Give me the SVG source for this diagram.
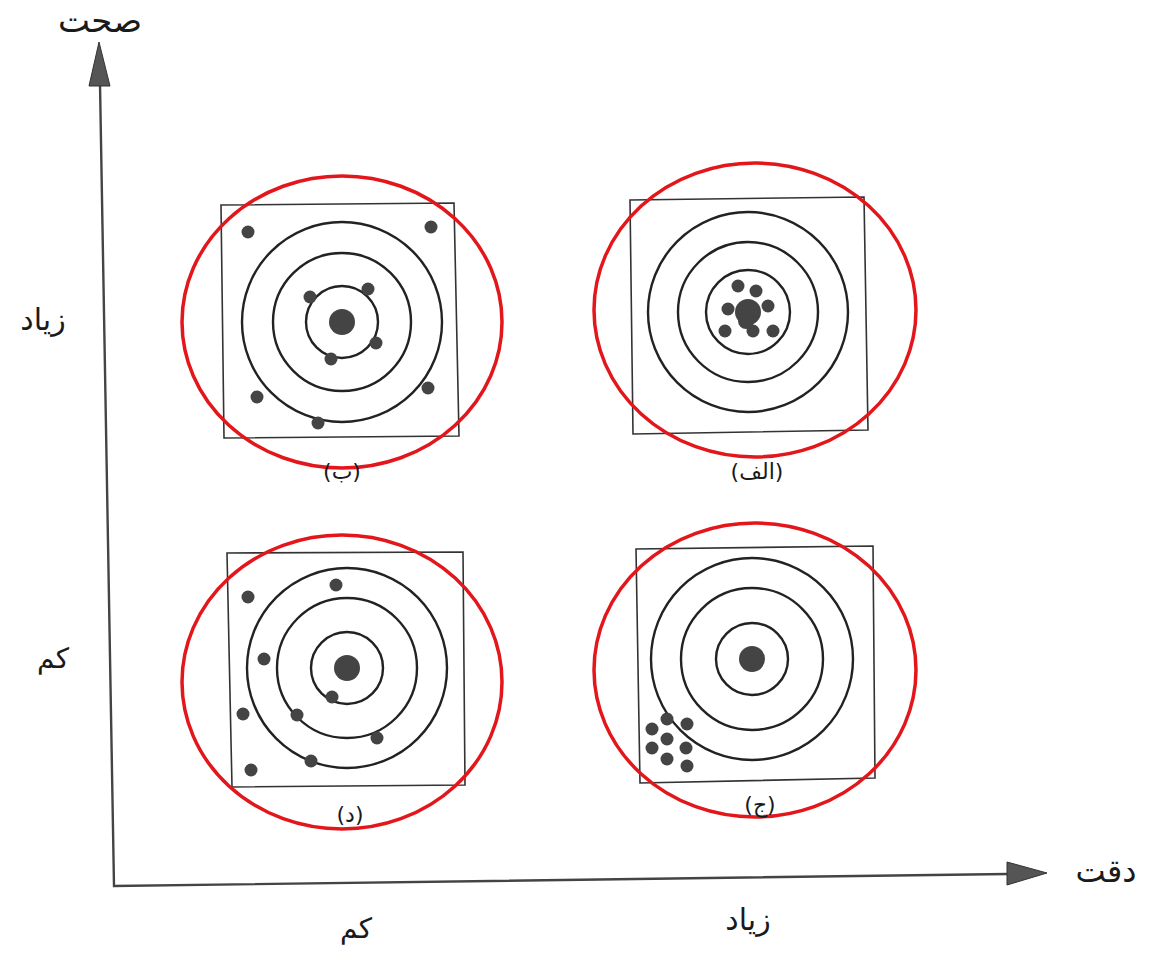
<svg xmlns="http://www.w3.org/2000/svg" width="1152" height="967" viewBox="0 0 1152 967">
<style>
.bg{fill:#ffffff}
.sq{fill:none;stroke:#333;stroke-width:1.6}
.ring{fill:none;stroke:#222;stroke-width:2.4}
.red{fill:none;stroke:#e3161b;stroke-width:3.5}
.dot{fill:#444}
.ax{fill:none;stroke:#444;stroke-width:2.4}
.head{fill:#555;stroke:#333;stroke-width:1}
.lbl{font-family:"DejaVu Sans",sans-serif;fill:#1a1a1a;text-anchor:middle}
</style>
<rect class="bg" x="0" y="0" width="1152" height="967"/>
<g id="axes">
  <path class="ax" d="M100,84 L114,886 L1008,874"/>
  <polygon class="head" points="99,42 110,86 89,86"/>
  <polygon class="head" points="1047,873 1007,862 1007,885"/>
</g>
<g id="axis-labels">
  <text class="lbl" x="100" y="32" font-size="34" direction="rtl">صحت</text>
  <text class="lbl" x="1106" y="882" font-size="32" direction="rtl">دقت</text>
  <text class="lbl" x="43" y="330" font-size="30" direction="rtl">زیاد</text>
  <text class="lbl" x="53" y="668" font-size="28" direction="rtl">کم</text>
  <text class="lbl" x="356" y="938" font-size="28" direction="rtl">کم</text>
  <text class="lbl" x="748" y="930" font-size="30" direction="rtl">زیاد</text>
</g>
<g id="target-b">
  <polygon class="sq" points="221,205 454,203 459,436 224,438"/>
  <circle class="ring" cx="342" cy="322" r="36"/>
  <circle class="ring" cx="342" cy="322" r="69"/>
  <circle class="ring" cx="342" cy="322" r="100"/>
  <circle class="dot" cx="342" cy="322" r="13"/>
  <circle class="dot" cx="248" cy="232" r="6.5"/>
  <circle class="dot" cx="431" cy="227" r="6.5"/>
  <circle class="dot" cx="310" cy="297" r="6.5"/>
  <circle class="dot" cx="368" cy="289" r="6.5"/>
  <circle class="dot" cx="376" cy="343" r="6.5"/>
  <circle class="dot" cx="331" cy="359" r="6.5"/>
  <circle class="dot" cx="257" cy="397" r="6.5"/>
  <circle class="dot" cx="428" cy="388" r="6.5"/>
  <circle class="dot" cx="318" cy="423" r="6.5"/>
  <ellipse class="red" cx="342" cy="322" rx="160" ry="146"/>
  <text class="lbl" x="342" y="479" font-size="22">(ب)</text>
</g>
<g id="target-alef">
  <polygon class="sq" points="630,200 864,197 868,430 633,434"/>
  <circle class="ring" cx="748" cy="312" r="42"/>
  <circle class="ring" cx="748" cy="312" r="70"/>
  <circle class="ring" cx="748" cy="312" r="100"/>
  <circle class="dot" cx="748" cy="312" r="13"/>
  <circle class="dot" cx="746" cy="321" r="8"/>
  <circle class="dot" cx="738" cy="286" r="6.5"/>
  <circle class="dot" cx="756" cy="291" r="6.5"/>
  <circle class="dot" cx="768" cy="306" r="6.5"/>
  <circle class="dot" cx="728" cy="309" r="6.5"/>
  <circle class="dot" cx="725" cy="331" r="6.5"/>
  <circle class="dot" cx="753" cy="331" r="6.5"/>
  <circle class="dot" cx="773" cy="331" r="6.5"/>
  <ellipse class="red" cx="755" cy="310" rx="161" ry="147"/>
  <text class="lbl" x="757" y="479" font-size="22">(الف)</text>
</g>
<g id="target-d">
  <polygon class="sq" points="227,553 463,552 465,785 232,787"/>
  <circle class="ring" cx="347" cy="668" r="36"/>
  <circle class="ring" cx="347" cy="668" r="70"/>
  <circle class="ring" cx="347" cy="668" r="100"/>
  <circle class="dot" cx="347" cy="668" r="13"/>
  <circle class="dot" cx="248" cy="597" r="6.5"/>
  <circle class="dot" cx="336" cy="585" r="6.5"/>
  <circle class="dot" cx="264" cy="659" r="6.5"/>
  <circle class="dot" cx="332" cy="697" r="6.5"/>
  <circle class="dot" cx="243" cy="714" r="6.5"/>
  <circle class="dot" cx="297" cy="715" r="6.5"/>
  <circle class="dot" cx="377" cy="738" r="6.5"/>
  <circle class="dot" cx="311" cy="761" r="6.5"/>
  <circle class="dot" cx="251" cy="770" r="6.5"/>
  <ellipse class="red" cx="342" cy="682" rx="160" ry="147"/>
  <text class="lbl" x="350" y="822" font-size="22">(د)</text>
</g>
<g id="target-jim">
  <polygon class="sq" points="636,549 873,546 875,778 640,783"/>
  <circle class="ring" cx="752" cy="659" r="36"/>
  <circle class="ring" cx="752" cy="659" r="71"/>
  <circle class="ring" cx="752" cy="659" r="101"/>
  <circle class="dot" cx="752" cy="659" r="13"/>
  <circle class="dot" cx="667" cy="719" r="6.5"/>
  <circle class="dot" cx="687" cy="724" r="6.5"/>
  <circle class="dot" cx="652" cy="729" r="6.5"/>
  <circle class="dot" cx="667" cy="739" r="6.5"/>
  <circle class="dot" cx="652" cy="748" r="6.5"/>
  <circle class="dot" cx="686" cy="748" r="6.5"/>
  <circle class="dot" cx="667" cy="759" r="6.5"/>
  <circle class="dot" cx="687" cy="766" r="6.5"/>
  <ellipse class="red" cx="755" cy="670" rx="161" ry="147"/>
  <text class="lbl" x="760" y="812" font-size="22">(ج)</text>
</g>
</svg>
